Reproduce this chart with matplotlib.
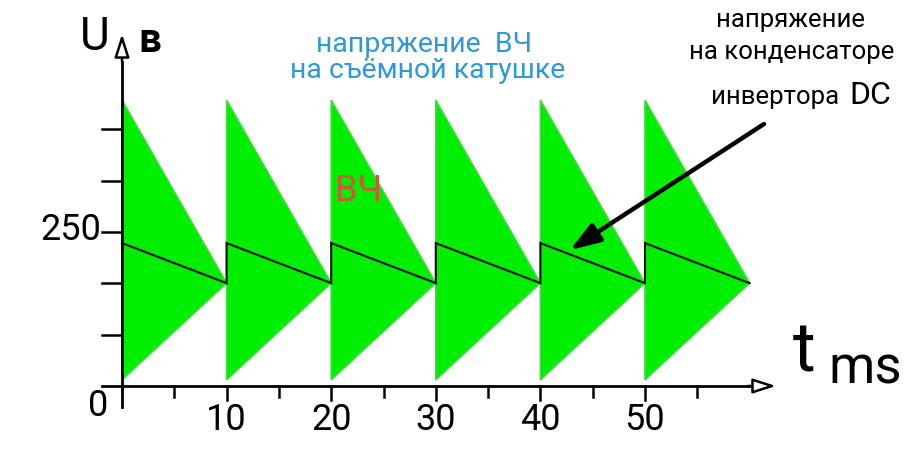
import matplotlib
matplotlib.use("Agg")
import matplotlib.pyplot as plt

plt.rcParams['font.family'] = ['Roboto', 'DejaVu Sans']

# ---- data ----
period_starts = [0, 10, 20, 30, 40, 50]      # ms
period_len = 10                               # ms
hf_peak = 464                                 # V, HF envelope top at period start
hf_low = 10                                   # V, HF envelope bottom at period start
hf_tip = 167                                  # V, envelope converges here
dc_start = 232                                # V, DC at period start
dc_end = 167                                  # V, DC at period end
y_ticks = [250 / 3 * k for k in range(1, 6)]
y_labels = {0: "0", 250: "250"}
x_major = [0, 10, 20, 30, 40, 50]
x_minor = [5, 15, 25, 35, 45, 55]
x_labels = ["10", "20", "30", "40", "50"]

W, H = 924, 475
fig = plt.figure(figsize=(W / 100, H / 100), dpi=100)
ax = fig.add_axes([0, 0, 1, 1])
ax.axis('off')

# pixel mapping of axes: t=0 at px 122, 10.46 px/ms; V=0 at py 386, 0.616 px/V
x0, sx = 122, 10.46
y0, sy = 386, 0.616
ax.set_xlim(-x0 / sx, (W - x0) / sx)
ax.set_ylim(-(H - y0) / sy, y0 / sy)

def P(px, py):
    return ((px - x0) / sx, (y0 - py) / sy)

green = '#00ee00'
# HF triangles
for t0 in period_starts:
    ax.fill([t0, t0 + period_len, t0], [hf_peak, hf_tip, hf_low],
            color=green, ec='#45d845', lw=1.2, zorder=2)

# DC sawtooth
ts, vs = [], []
for t0 in period_starts:
    ts += [t0, t0 + period_len]
    vs += [dc_start, dc_end]
ax.plot(ts, vs, color='#111111', lw=1.5, zorder=3, solid_joinstyle='miter')

# axes with open arrows
ax.plot([P(102, 0)[0], P(752, 0)[0]], [0, 0], color='black', lw=2, zorder=4)
ax.plot([0, 0], [P(0, 407)[1], P(0, 62)[1]], color='black', lw=2, zorder=4)
ax.annotate('', xy=P(776, 386), xytext=P(748, 386),
            arrowprops=dict(arrowstyle='-|>,head_length=1.4,head_width=0.45',
                            fc='white', ec='black', lw=1.8, shrinkA=0, shrinkB=0), zorder=5)
ax.annotate('', xy=P(122, 34), xytext=P(122, 62),
            arrowprops=dict(arrowstyle='-|>,head_length=1.4,head_width=0.45',
                            fc='white', ec='black', lw=1.8, shrinkA=0, shrinkB=0), zorder=5)

# ticks
tlen_y = 20 / sx
for v in y_ticks:
    ax.plot([-tlen_y, 0], [v, v], color='black', lw=1.8, zorder=4)
for t in x_major[1:]:
    ax.plot([t, t], [0, -14 / sy], color='black', lw=1.8, zorder=4)
for t in x_minor:
    ax.plot([t, t], [0, -11 / sy], color='black', lw=1.8, zorder=4)

# tick labels
fs = 26
ax.text(*P(98, 406), "0", fontsize=fs, ha='center', va='center')
ax.text(P(101, 0)[0], P(0, 230)[1], y_labels[250], fontsize=fs, ha='right', va='center')
for t, lab in zip(x_major[1:], x_labels):
    ax.text(t, P(0, 420)[1], lab, fontsize=fs, ha='center', va='center')

# axis titles
ax.text(*P(95, 37), "U", fontsize=33, ha='center', va='center')
ax.text(*P(150, 41), "в", fontsize=29, fontweight='bold', ha='center', va='center')
ax.text(*P(793, 372), "t", fontsize=50, ha='left', va='baseline')
ax.text(*P(828, 383), "ms", fontsize=38, ha='left', va='baseline')

# annotations
blue = '#2f98d6'
ax.text(*P(424, 44), "напряжение  ВЧ", fontsize=20.5, color=blue, ha='center', va='center')
ax.text(*P(428, 70), "на съёмной катушке", fontsize=20.5, color=blue, ha='center', va='center')
ax.text(*P(359, 191), "ВЧ", fontsize=26, color='#d0583a', ha='center', va='center', zorder=6)

ax.text(*P(790, 20), "напряжение", fontsize=18.5, ha='center', va='center')
ax.text(*P(792, 52), "на конденсаторе", fontsize=18.5, ha='center', va='center')
ax.text(*P(845, 104), "инвертора ", fontsize=18.5, ha='right', va='baseline')
ax.text(*P(849, 104), "DC", fontsize=23, ha='left', va='baseline')

ax.annotate('', xy=P(570, 250), xytext=P(764, 124),
            arrowprops=dict(arrowstyle='-|>,head_length=1.3,head_width=0.45',
                            fc='black', ec='black', lw=3.2, shrinkA=0, shrinkB=0,
                            mutation_scale=14), zorder=7)

fig.savefig("out.png", dpi=100)
